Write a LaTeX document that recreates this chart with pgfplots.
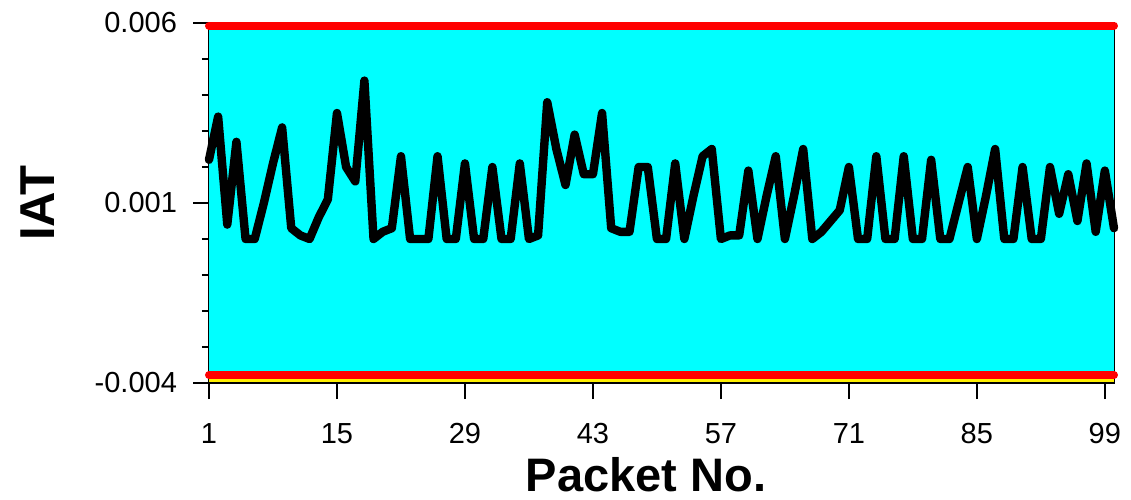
\documentclass[border=0pt]{standalone}
\usepackage{pgfplots}
\pgfplotsset{compat=1.18}
\usepackage{fontspec}
\setmainfont{Liberation Sans}
\definecolor{bgcyan}{RGB}{0,255,255}
\definecolor{ucl}{RGB}{255,0,0}
\definecolor{ylw}{RGB}{255,240,0}
\begin{document}
\begin{tikzpicture}
\useasboundingbox (0,0) rectangle (565.5pt,249.5pt);
\begin{axis}[
  at={(104.5pt,58pt)}, anchor=south west,
  scale only axis, width=452.5pt, height=180pt,
  xmin=1, xmax=100, ymin=-0.004, ymax=0.006,
  clip=false,
  axis line style={black, line width=0.8pt},
  xtick={1,15,29,43,57,71,85,99},
  xticklabels={1,15,29,43,57,71,85,99},
  ytick={-0.004,0.001,0.006},
  yticklabels={-0.004,0.001,0.006},
  minor ytick={-0.003,-0.002,-0.001,0,0.002,0.003,0.004,0.005},
  scaled y ticks=false, scaled x ticks=false,
  tick align=outside, xtick pos=left, ytick pos=left,
  major tick length=8pt, minor tick length=3.5pt,
  tick style={black, line width=1pt},
  ticklabel style={font=\fontsize{14.5}{17}\selectfont},
  xticklabel style={inner sep=0pt, yshift=-12pt},
  yticklabel style={xshift=-4.5pt},
  xlabel={Packet No.}, ylabel={IAT},
  every axis x label/.style={at={(axis description cs:0.483,-0.3)}, anchor=base, inner sep=0pt, font=\fontsize{23.5}{26}\selectfont\bfseries},
  every axis y label/.style={at={(axis description cs:-0.189,0.5)}, rotate=90, anchor=center, font=\fontsize{24.5}{29}\selectfont\bfseries},
]
\addplot[fill=bgcyan, draw=none] coordinates {(1,0.00593) (100,0.00593) (100,-0.00378) (1,-0.00378)} -- cycle;
\addplot[ylw, line width=1.6pt] coordinates {(1,-0.00392) (100,-0.00392)};
\addplot[ucl, line width=4pt, line cap=round] coordinates {(1,0.00593) (100,0.00593)};
\addplot[ucl, line width=4pt, line cap=round] coordinates {(1,-0.00378) (100,-0.00378)};
\addplot[black, line width=4.2pt, line join=round, line cap=round] table {
x y
1 0.0022
2 0.0034
3 0.0004
4 0.0027
5 0.0000
6 0.0000
7 0.0010
8 0.0021
9 0.0031
10 0.0003
11 0.0001
12 0.0000
13 0.0006
14 0.0011
15 0.0035
16 0.0020
17 0.0016
18 0.0044
19 0.0000
20 0.0002
21 0.0003
22 0.0023
23 0.0000
24 0.0000
25 0.0000
26 0.0023
27 0.0000
28 0.0000
29 0.0021
30 0.0000
31 0.0000
32 0.0020
33 0.0000
34 0.0000
35 0.0021
36 0.0000
37 0.0001
38 0.0038
39 0.0025
40 0.0015
41 0.0029
42 0.0018
43 0.0018
44 0.0035
45 0.0003
46 0.0002
47 0.0002
48 0.0020
49 0.0020
50 0.0000
51 0.0000
52 0.0021
53 0.0000
54 0.0012
55 0.0023
56 0.0025
57 0.0000
58 0.0001
59 0.0001
60 0.0019
61 0.0000
62 0.0012
63 0.0023
64 0.0000
65 0.0012
66 0.0025
67 0.0000
68 0.0002
69 0.0005
70 0.0008
71 0.0020
72 0.0000
73 0.0000
74 0.0023
75 0.0000
76 0.0000
77 0.0023
78 0.0000
79 0.0000
80 0.0022
81 0.0000
82 0.0000
83 0.0010
84 0.0020
85 0.0000
86 0.0012
87 0.0025
88 0.0000
89 0.0000
90 0.0020
91 0.0000
92 0.0000
93 0.0020
94 0.0007
95 0.0018
96 0.0005
97 0.0021
98 0.0002
99 0.0019
100 0.0003
};
\end{axis}
\end{tikzpicture}
\end{document}
